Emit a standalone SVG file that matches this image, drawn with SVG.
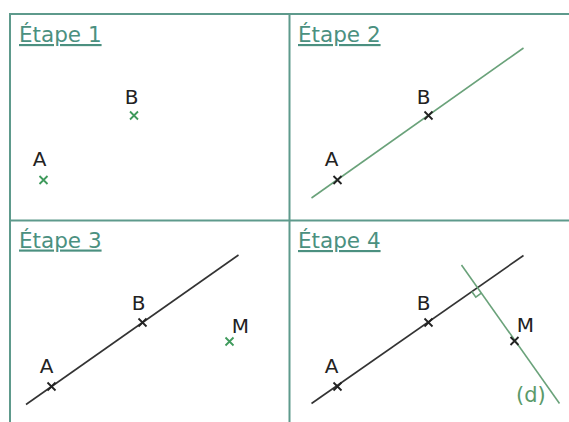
<svg xmlns="http://www.w3.org/2000/svg" width="569" height="422" viewBox="0 0 569 422">
<style>
.title{font-family:"DejaVu Sans",sans-serif;font-size:21.5px;fill:#4b9080;text-decoration:underline}
.lbl{font-family:"DejaVu Sans",sans-serif;font-size:20px;fill:#222;text-anchor:middle}
.glbl{font-family:"DejaVu Sans",sans-serif;font-size:21px;fill:#5a9a6a}
.grid{fill:none;stroke:#5e9a8c;stroke-width:2}
.xb{stroke:#222;stroke-width:1.8;fill:none}
.xg{stroke:#3f9a5c;stroke-width:1.8;fill:none}
.lg{stroke:#6aa27a;stroke-width:1.6;fill:none}
.lb{stroke:#333;stroke-width:1.6;fill:none}
</style>
<defs>
<path id="cross" d="M-4,-4L4,4M-4,4L4,-4"/>
</defs>
<rect x="0" y="0" width="569" height="422" fill="#ffffff"/>
<rect x="10" y="14" width="580" height="430" fill="#e9f1ef" class="grid"/>
<line x1="289.5" y1="14" x2="289.5" y2="430" class="grid"/>
<line x1="10" y1="220.5" x2="580" y2="220.5" class="grid"/>

<g id="etape1">
<text x="19" y="42" class="title">Étape 1</text>
<text x="131.5" y="104" class="lbl">B</text>
<use href="#cross" x="134" y="115.5" class="xg"/>
<text x="39.5" y="166" class="lbl">A</text>
<use href="#cross" x="43.5" y="180" class="xg"/>
</g>

<g id="etape2">
<text x="298" y="42" class="title">Étape 2</text>
<line x1="311.5" y1="198" x2="523.5" y2="48" class="lg"/>
<use href="#cross" x="337.5" y="180" class="xb"/>
<use href="#cross" x="428.5" y="115.5" class="xb"/>
<text x="331.5" y="166" class="lbl">A</text>
<text x="423.5" y="104" class="lbl">B</text>
</g>

<g id="etape3">
<text x="19" y="247.5" class="title">Étape 3</text>
<line x1="26" y1="404.5" x2="238.5" y2="255" class="lb"/>
<use href="#cross" x="51.5" y="386.5" class="xb"/>
<use href="#cross" x="142.5" y="322.5" class="xb"/>
<use href="#cross" x="229.5" y="341.5" class="xg"/>
<text x="46.5" y="373" class="lbl">A</text>
<text x="138.5" y="310" class="lbl">B</text>
<text x="240.5" y="333" class="lbl">M</text>
</g>

<g id="etape4">
<text x="298" y="248" class="title">Étape 4</text>
<line x1="311.5" y1="403.5" x2="523.5" y2="255.5" class="lb"/>
<line x1="461.5" y1="265" x2="559.5" y2="403.5" class="lg"/>
<path d="M471.8,291.5L475.8,297.2L481.3,293.1" class="lg"/>
<use href="#cross" x="337.5" y="386.5" class="xb"/>
<use href="#cross" x="428.5" y="322.5" class="xb"/>
<use href="#cross" x="514.5" y="341" class="xb"/>
<text x="331.5" y="373" class="lbl">A</text>
<text x="423.5" y="310" class="lbl">B</text>
<text x="525.5" y="332" class="lbl">M</text>
<text x="516" y="402" class="glbl">(d)</text>
</g>
</svg>
